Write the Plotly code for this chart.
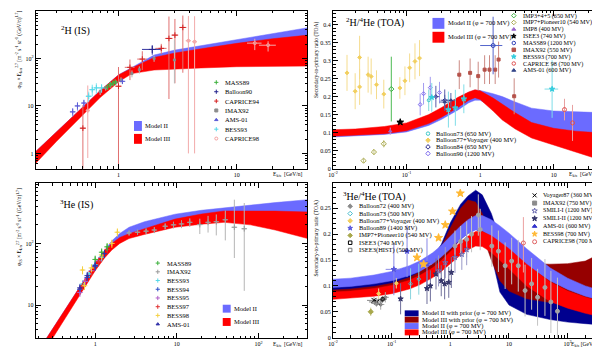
import math
import plotly.graph_objects as go

FONT = "Liberation Serif"

# ---------------- Panel 1 : 2H (IS) ----------------
p1_band_E = [0.2, 0.3, 0.5, 0.7, 1.0, 1.3, 2, 3, 5, 10, 20, 40]
p1_m3_lo = [0.62, 1.8, 6.5, 15, 32, 48, 57, 60, 63, 67, 69, 69]
p1_m3_hi = [1.1, 2.9, 9.5, 21, 45, 63, 105, 130, 160, 208, 260, 310]
p1_m2_lo = [0.7, 2.0, 7.0, 16, 35, 52, 80, 100, 125, 170, 210, 250]
p1_m2_hi = [1.1, 2.9, 9.5, 21, 45, 65, 118, 150, 185, 245, 330, 445]

p1_mass89_E = [0.81, 0.85, 0.90, 0.94]
p1_mass89_v = [25, 28, 30, 32]
p1_mass89_err = [3, 3, 4, 4]

p1_balloon90_E = [1.93]
p1_balloon90_v = [155]
p1_balloon90_err = [35]
p1_balloon90_ex = [0.35]

p1_caprice94_E = [0.50, 1.00, 1.25, 1.59, 2.30, 2.67, 3.00, 3.50]
p1_caprice94_v = [3.4, 26, 65, 97, 163, 264, 310, 450]
p1_caprice94_up = [7, 40, 30, 45, 40, 500, 370, 350]
p1_caprice94_dn = [3.1, 25.5, 30, 40, 40, 250, 280, 400]
p1_caprice94_ex = [0.03, 0.06, 0.12, 0.15, 0.25, 0.2, 0.2, 0.25]

p1_imax92_E = [0.70, 0.78, 0.86, 0.95, 1.05, 1.3, 1.5, 2.0, 2.97]
p1_imax92_v = [20, 24, 28, 31, 35, 48, 58, 100, 93]
p1_imax92_up = [3, 3, 4, 4, 5, 8, 10, 15, 150]
p1_imax92_dn = [3, 3, 4, 4, 5, 8, 10, 15, 63]

p1_ams01_E = [0.41, 0.45, 0.51, 1.08]
p1_ams01_v = [7.5, 10, 11.5, 33]
p1_ams01_err = [1.5, 2, 2, 4]

p1_bess93_E = [0.56, 0.60, 0.65, 0.72]
p1_bess93_v = [16, 22, 24, 24]
p1_bess93_err = [4, 6, 6, 5]

p1_caprice98_E = [0.55, 3.9, 4.4, 14.2, 18.4]
p1_caprice98_v = [8, 236, 225, 210, 190]
p1_caprice98_up = [19, 550, 550, 50, 40]
p1_caprice98_dn = [7.2, 235, 224, 60, 50]
p1_caprice98_ex = [0.02, 0.2, 0.2, 2.0, 3.0]

# ---------------- Panel 2 : 2H/4He (TOA) ----------------
p2_band_E = [0.01, 0.02, 0.05, 0.1, 0.2, 0.3, 0.5, 0.7, 0.85, 1.0, 1.5, 2, 3, 5, 10, 20, 50]
p2_m3_lo = [0.090, 0.092, 0.097, 0.105, 0.125, 0.143, 0.170, 0.190, 0.197, 0.192, 0.160, 0.135, 0.110, 0.085, 0.065, 0.045, 0.020]
p2_m3_hi = [0.108, 0.110, 0.117, 0.127, 0.150, 0.170, 0.198, 0.213, 0.219, 0.216, 0.196, 0.178, 0.155, 0.128, 0.112, 0.104, 0.098]
p2_m2_lo = [0.088, 0.090, 0.095, 0.102, 0.120, 0.137, 0.163, 0.183, 0.190, 0.190, 0.170, 0.155, 0.140, 0.120, 0.100, 0.090, 0.080]
p2_m2_hi = [0.105, 0.107, 0.114, 0.124, 0.147, 0.167, 0.196, 0.212, 0.218, 0.217, 0.208, 0.200, 0.185, 0.168, 0.160, 0.157, 0.155]

p2_b77_E = [0.0155, 0.020, 0.023, 0.023, 0.030, 0.033, 0.039, 0.049, 0.081, 0.095, 0.11, 0.13, 0.15]
p2_b77_v = [0.266, 0.215, 0.309, 0.227, 0.261, 0.256, 0.233, 0.207, 0.224, 0.244, 0.280, 0.298, 0.307]
p2_b77_err = [0.05, 0.05, 0.06, 0.05, 0.05, 0.05, 0.04, 0.04, 0.03, 0.04, 0.04, 0.05, 0.05]

p2_imp7_E = [0.026, 0.036, 0.049]
p2_imp7_v = [0.022, 0.046, 0.069]
p2_imp7_err = [0.006, 0.008, 0.010]

p2_imp345_E = [0.062]
p2_imp345_v = [0.221]
p2_imp345_err = [0.09]

p2_isee3_E = [0.082]
p2_isee3_v = [0.129]
p2_isee3_err = [0.006]

p2_imp8_E = [0.060]
p2_imp8_v = [0.104]
p2_imp8_err = [0.01]

p2_b90_E = [0.153, 0.17, 0.21, 0.28]
p2_b90_v = [0.178, 0.208, 0.225, 0.211]
p2_b90_err = [0.03, 0.03, 0.03, 0.03]

p2_b84_E = [0.25, 0.33]
p2_b84_v = [0.20, 0.19]
p2_b84_err = [0.03, 0.03]

p2_b73_E = [0.20]
p2_b73_v = [0.19]
p2_b73_err = [0.03]

p2_bess93_E = [0.22, 0.37, 0.46, 0.60, 9.5]
p2_bess93_v = [0.198, 0.164, 0.169, 0.194, 0.221]
p2_bess93_err = [0.04, 0.05, 0.05, 0.04, 0.08]
p2_bess93_ex = [0.02, 0.03, 0.04, 0.05, 2.0]

p2_mass89_E = [1.5]
p2_mass89_v = [0.342]
p2_mass89_err = [0.08]
p2_mass89_ex = [0.5]

p2_imax92_E = [0.52, 0.73, 0.94, 1.15, 1.34, 1.6, 1.78, 2.9]
p2_imax92_v = [0.261, 0.266, 0.257, 0.275, 0.275, 0.275, 0.303, 0.201]
p2_imax92_err = [0.04, 0.04, 0.04, 0.04, 0.04, 0.04, 0.05, 0.05]

p2_caprice98_E = [14, 18]
p2_caprice98_v = [0.164, 0.127]
p2_caprice98_err = [0.03, 0.05]

p2_ams01_E = [0.33, 0.40]
p2_ams01_v = [0.185, 0.19]
p2_ams01_err = [0.02, 0.02]
p2_ams01_ex = [0.05, 0.06]

# ---------------- Panel 3 : 3He (IS) ----------------
p3_band_E = [0.19, 0.3, 0.44, 0.7, 1.0, 1.3, 1.6, 2.0, 2.6, 4, 6, 9.5, 20, 38, 80, 160, 400]
p3_m3_lo = [1.1, 2.9, 6.2, 17, 36, 58, 78, 100, 120, 140, 160, 183, 205, 220, 200, 165, 120]
p3_m3_hi = [1.6, 4.0, 8.9, 23, 48, 75, 100, 125, 144, 175, 205, 248, 300, 336, 340, 335, 324]
p3_m2_lo = [1.2, 3.0, 6.5, 18, 38, 62, 84, 108, 130, 155, 180, 210, 240, 260, 260, 250, 240]
p3_m2_hi = [1.6, 4.0, 8.9, 23, 48, 78, 110, 145, 183, 225, 260, 298, 345, 378, 420, 460, 513]

p3_mass89_E = [1.0, 1.2, 1.4]
p3_mass89_v = [55, 72, 88]
p3_imax92_E = [2.6, 3.3, 4.2, 5.3, 7.2, 9.1, 11.4, 14.4, 19.1, 24.1, 30.4, 39.2, 50.6, 66.9]
p3_imax92_v = [148, 152, 158, 165, 190, 200, 207, 220, 202, 220, 225, 242, 183, 173]
p3_imax92_up = [12, 14, 15, 18, 20, 25, 30, 35, 50, 60, 70, 100, 330, 280]
p3_imax92_dn = [12, 14, 15, 18, 20, 25, 30, 35, 60, 70, 90, 130, 125, 156]
p3_bess93_E = [0.7, 0.85, 1.0, 1.2]
p3_bess93_v = [22, 32, 45, 60]
p3_bess94_E = [0.65, 0.8, 1.0]
p3_bess94_v = [18, 28, 42]
p3_bess95_E = [0.65, 0.75, 0.9, 1.1]
p3_bess95_v = [16, 24, 36, 52]
p3_bess97_E = [0.7, 0.9, 1.1, 1.4]
p3_bess97_v = [20, 35, 50, 80]
p3_bess98_E = [0.70, 0.74, 0.9, 1.2, 1.6, 1.87]
p3_bess98_v = [37, 20.6, 40, 65, 100, 152]
p3_ams01_E = [0.65, 0.8, 1.0, 1.3]
p3_ams01_v = [19, 30, 44, 68]

# ---------------- Panel 4 : 3He/4He (TOA) ----------------
p4_band_E = [0.01, 0.02, 0.05, 0.1, 0.2, 0.3, 0.5, 0.7, 1.0, 1.5, 2.0, 2.7, 3.5, 5, 7, 10, 20, 50, 100, 200, 447]
p4_m2p_lo = [0.086, 0.088, 0.092, 0.098, 0.108, 0.117, 0.133, 0.148, 0.168, 0.190, 0.202, 0.210, 0.200, 0.160, 0.088, 0.063, 0.045, 0.035, 0.030, 0.027, 0.024]
p4_m2p_hi = [0.100, 0.102, 0.107, 0.113, 0.124, 0.135, 0.156, 0.180, 0.222, 0.258, 0.274, 0.285, 0.276, 0.240, 0.190, 0.150, 0.105, 0.080, 0.070, 0.065, 0.062]
p4_m3p_lo = [0.080, 0.082, 0.086, 0.091, 0.100, 0.108, 0.122, 0.137, 0.160, 0.195, 0.222, 0.225, 0.200, 0.150, 0.110, 0.090, 0.075, 0.068, 0.065, 0.063, 0.062]
p4_m3p_hi = [0.092, 0.094, 0.099, 0.105, 0.116, 0.127, 0.150, 0.175, 0.212, 0.250, 0.266, 0.262, 0.240, 0.195, 0.160, 0.148, 0.143, 0.142, 0.143, 0.148, 0.168]
p4_m2_lo = [0.097, 0.099, 0.104, 0.110, 0.120, 0.128, 0.143, 0.156, 0.172, 0.190, 0.201, 0.208, 0.206, 0.196, 0.182, 0.168, 0.140, 0.110, 0.093, 0.080, 0.070]
p4_m2_hi = [0.113, 0.115, 0.121, 0.128, 0.139, 0.148, 0.164, 0.178, 0.196, 0.216, 0.228, 0.236, 0.236, 0.228, 0.216, 0.202, 0.172, 0.135, 0.115, 0.100, 0.088]
p4_m3_lo = [0.074, 0.076, 0.080, 0.085, 0.094, 0.102, 0.116, 0.128, 0.143, 0.160, 0.170, 0.177, 0.176, 0.165, 0.150, 0.133, 0.100, 0.070, 0.057, 0.047, 0.038]
p4_m3_hi = [0.088, 0.090, 0.095, 0.101, 0.111, 0.120, 0.135, 0.149, 0.166, 0.185, 0.196, 0.205, 0.205, 0.197, 0.185, 0.172, 0.142, 0.108, 0.090, 0.078, 0.068]

p4_imax92_E = [1.2, 1.5, 1.9, 2.3, 3.0, 3.23, 5.1, 6.6, 8.6, 11.1, 14.4, 18.8, 24.3, 30.7, 41, 51.8, 67]
p4_imax92_v = [0.177, 0.186, 0.190, 0.200, 0.237, 0.209, 0.177, 0.167, 0.139, 0.148, 0.139, 0.091, 0.104, 0.078, 0.097, 0.069, 0.051]
p4_imax92_err = [0.03, 0.03, 0.035, 0.035, 0.04, 0.04, 0.04, 0.04, 0.045, 0.045, 0.05, 0.05, 0.05, 0.055, 0.055, 0.06, 0.065]
p4_bess98_E = [0.27, 0.35, 0.63, 0.82, 1.09, 1.48]
p4_bess98_v = [0.155, 0.142, 0.193, 0.218, 0.244, 0.279]
p4_b77_E = [0.06, 0.12]
p4_b77_v = [0.085, 0.105]
p4_imp7_E = [0.044]
p4_imp7_v = [0.050]
p4_voy87_E = [0.050, 0.056]
p4_voy87_v = [0.072, 0.069]
p4_b72_E = [0.065, 0.078]
p4_b72_v = [0.064, 0.078]
p4_isee3_E = [0.07]
p4_isee3_v = [0.074]
p4_iseeh_E = [0.055]
p4_iseeh_v = [0.066]
p4_smili2_E = [0.142, 0.40, 0.457, 0.57, 0.70, 0.80, 0.94, 1.04]
p4_smili2_v = [0.075, 0.095, 0.100, 0.123, 0.110, 0.104, 0.107, 0.126]
p4_smili1_E = [0.63, 0.82, 1.2, 1.57, 1.9]
p4_smili1_v = [0.129, 0.145, 0.155, 0.161, 0.17]
p4_b89_E = [0.109, 0.183, 0.40]
p4_b89_v = [0.132, 0.167, 0.142]
p4_b73_E = [0.21, 0.29]
p4_b73_v = [0.104, 0.113]
p4_caprice98_E = [17.6]
p4_caprice98_v = [0.183]

fig = go.Figure()


def band(E, lo, hi, color, ax):
    fig.add_trace(go.Scatter(
        x=list(E) + list(E)[::-1], y=list(hi) + list(lo)[::-1],
        mode="lines", fill="toself", fillcolor=color,
        line=dict(color=color, width=0.5), hoverinfo="skip",
        xaxis="x" + ax, yaxis="y" + ax, showlegend=False))


def pts(E, v, color, symbol, size, ax, up=None, dn=None, ex=None, ecolor=None):
    ec = ecolor or color
    kw = {}
    if up is not None:
        kw["error_y"] = dict(type="data", symmetric=dn is None, array=up,
                             arrayminus=dn, color=ec, thickness=1, width=0)
    if ex is not None:
        kw["error_x"] = dict(type="data", array=ex, color=ec, thickness=1, width=0)
    fig.add_trace(go.Scatter(
        x=E, y=v, mode="markers",
        marker=dict(color=color, symbol=symbol, size=size,
                    line=dict(color=color, width=1)),
        xaxis="x" + ax, yaxis="y" + ax, showlegend=False, **kw))


BLUE = "#6B6BFF"
RED = "#FF0000"
NAVY = "#00008F"
DRED = "#960000"

# Panel 1
band(p1_band_E, p1_m2_lo, p1_m2_hi, BLUE, "")
band(p1_band_E, p1_m3_lo, p1_m3_hi, RED, "")
pts(p1_caprice98_E, p1_caprice98_v, "#F4A0A0", "circle-open", 3, "", p1_caprice98_up, p1_caprice98_dn, p1_caprice98_ex, "#F2AAAA")
pts(p1_caprice94_E, p1_caprice94_v, "#D42020", "cross-thin", 4, "", p1_caprice94_up, p1_caprice94_dn, p1_caprice94_ex, "#E07070")
pts(p1_imax92_E, p1_imax92_v, "#8C8C8C", "square", 2, "", p1_imax92_up, p1_imax92_dn, None, "#BBBBBB")
pts(p1_ams01_E, p1_ams01_v, "#5B5BD6", "cross-thin", 4, "", p1_ams01_err, None, [0.02, 0.02, 0.02, 0.04], "#7777DD")
pts(p1_bess93_E, p1_bess93_v, "#55D8E8", "cross-thin", 4, "", p1_bess93_err, None, [0.03, 0.03, 0.03, 0.03], "#7FE3EF")
pts(p1_mass89_E, p1_mass89_v, "#3DB03D", "cross-thin", 4, "", p1_mass89_err, None, None, "#77CC77")
pts(p1_balloon90_E, p1_balloon90_v, "#23238C", "cross-thin", 5, "", p1_balloon90_err, None, p1_balloon90_ex, "#3434A0")

# Panel 2
band(p2_band_E, p2_m2_lo, p2_m2_hi, BLUE, "2")
band(p2_band_E, p2_m3_lo, p2_m3_hi, RED, "2")
pts(p2_b77_E, p2_b77_v, "#F2CF5E", "diamond", 3, "2", p2_b77_err, None, None, "#F5DC8E")
pts(p2_imp7_E, p2_imp7_v, "#A8A84C", "diamond-open", 4, "2", p2_imp7_err, None, None, "#C8C88A")
pts(p2_imp345_E, p2_imp345_v, "#3CB043", "diamond-open", 4, "2", p2_imp345_err, None, None, "#4CBB53")
pts(p2_isee3_E, p2_isee3_v, "#000000", "star", 5, "2", p2_isee3_err, None, [0.008], "#555555")
pts(p2_imp8_E, p2_imp8_v, "#9966CC", "triangle-up", 3, "2", p2_imp8_err, None, None, "#BB99DD")
pts(p2_b90_E, p2_b90_v, "#7B68EE", "diamond-open", 3, "2", p2_b90_err, None, None, "#A39BF0")
pts(p2_b84_E, p2_b84_v, "#2B2B8C", "diamond-open", 3, "2", p2_b84_err, None, [0.03, 0.04], "#5A5AA8")
pts(p2_b73_E, p2_b73_v, "#3FC8C8", "circle-open", 3, "2", p2_b73_err, None, None, "#80DADA")
pts(p2_bess93_E, p2_bess93_v, "#33CCDD", "star", 4, "2", p2_bess93_err, None, p2_bess93_ex, "#7FDDE8")
pts(p2_ams01_E, p2_ams01_v, "#334488", "triangle-up", 3, "2", p2_ams01_err, None, p2_ams01_ex, "#5566AA")
pts(p2_imax92_E, p2_imax92_v, "#B5524A", "square", 3, "2", p2_imax92_err, None, None, "#CC8A84")
pts(p2_mass89_E, p2_mass89_v, "#3344BB", "circle-open", 4, "2", p2_mass89_err, None, p2_mass89_ex, "#5566CC")
pts(p2_caprice98_E, p2_caprice98_v, "#E05050", "circle-open", 4, "2", p2_caprice98_err, None, None, "#E8A0A0")

# Panel 3
band(p3_band_E, p3_m2_lo, p3_m2_hi, BLUE, "3")
band(p3_band_E, p3_m3_lo, p3_m3_hi, RED, "3")
pts(p3_imax92_E, p3_imax92_v, "#9A9A9A", "cross-thin", 4, "3", p3_imax92_up, p3_imax92_dn, [0.15, 0.2, 0.25, 0.3, 0.4, 0.5, 0.6, 0.8, 1, 1.3, 1.7, 2.2, 3, 4], "#B5B5B5")
for E, v, c in [(p3_bess93_E, p3_bess93_v, "#55D8E8"), (p3_bess94_E, p3_bess94_v, "#2E4FC9"),
                (p3_bess95_E, p3_bess95_v, "#B060C8"), (p3_bess97_E, p3_bess97_v, "#E03030"),
                (p3_bess98_E, p3_bess98_v, "#F5D040"), (p3_mass89_E, p3_mass89_v, "#3DB03D"),
                (p3_ams01_E, p3_ams01_v, "#3333AA")]:
    pts(E, v, c, "cross-thin", 4, "3", [x * 0.15 for x in v], None, [x * 0.04 for x in E], c)

# Panel 4
band(p4_band_E, p4_m2p_lo, p4_m2p_hi, NAVY, "4")
band(p4_band_E, p4_m3p_lo, p4_m3p_hi, DRED, "4")
band(p4_band_E, p4_m2_lo, p4_m2_hi, BLUE, "4")
band(p4_band_E, p4_m3_lo, p4_m3_hi, RED, "4")
pts(p4_imax92_E, p4_imax92_v, "#A5A5A5", "circle", 4, "4", p4_imax92_err, None, None, "#C4C4C4")
pts(p4_b77_E, p4_b77_v, "#F2CF5E", "diamond", 3, "4", [0.01, 0.01], None, None, "#F5DC8E")
pts(p4_imp7_E, p4_imp7_v, "#A8A84C", "diamond", 4, "4", [0.008], None, None, "#C8C88A")
pts(p4_b72_E, p4_b72_v, "#8A8A8A", "diamond", 3, "4", [0.01, 0.01], None, [0.01, 0.012], "#AAAAAA")
pts(p4_voy87_E, p4_voy87_v, "#000000", "x-thin", 5, "4", [0.006, 0.006], None, [0.012, 0.015], "#888888")
pts(p4_isee3_E, p4_isee3_v, "#000000", "square-open", 3, "4", [0.006], None, [0.012], "#666666")
pts(p4_iseeh_E, p4_iseeh_v, "#777777", "square-open", 3, "4", [0.006], None, [0.01], "#999999")
pts(p4_b73_E, p4_b73_v, "#44BBCC", "diamond-open", 3, "4", [0.03, 0.03], None, None, "#88D4DD")
pts(p4_b89_E, p4_b89_v, "#5555DD", "star", 4, "4", [0.05, 0.05, 0.05], None, [0.03, 0.04, 0.08], "#8888E6")
pts(p4_smili2_E, p4_smili2_v, "#34346A", "star", 4, "4", [0.03] * 8, None, None, "#6E6E9A")
pts(p4_smili1_E, p4_smili1_v, "#6A6AB0", "star-open", 4, "4", [0.03] * 5, None, None, "#9A9AC8")
pts(p4_bess98_E, p4_bess98_v, "#FFB833", "star", 6, "4", [0.005] * 6, None, [0.03, 0.04, 0.06, 0.08, 0.1, 0.15], "#FFCC66")
pts(p4_caprice98_E, p4_caprice98_v, "#E06060", "circle-open", 4, "4", [0.05], [0.057], None, "#EBA0A0")


# ---------------- Axes ----------------
def minors(lo_exp, hi_exp, vmin, vmax):
    out = []
    for e in range(lo_exp, hi_exp + 1):
        for m in range(2, 10):
            val = m * 10 ** e
            if vmin <= val <= vmax:
                out.append(val)
    return out


def axis(kind, domain, rng, anchor, tickvals, ticktext, minor):
    d = dict(type=kind, domain=domain, range=rng, anchor=anchor,
             showline=True, linecolor="black", linewidth=1, mirror="allticks",
             ticks="inside", ticklen=5, tickwidth=0.8, tickcolor="black",
             tickmode="array", tickvals=tickvals, ticktext=ticktext,
             tickfont=dict(size=6, family=FONT, color="black"),
             showgrid=False, zeroline=False, fixedrange=True)
    if kind == "log":
        d["minor"] = dict(tickmode="array", tickvals=minor, ticks="inside",
                          ticklen=2.5, tickcolor="black", tickwidth=0.6, showgrid=False)
    else:
        d["minor"] = dict(dtick=minor, ticks="inside", ticklen=2.5,
                          tickcolor="black", tickwidth=0.6, showgrid=False)
    return d


W, H = 600.0, 348.0
xl = [23 / W, 296.5 / W]
xr = [322.7 / W, 596.7 / W]
yt = [1 - 162 / H, 1 - 3 / H]
yb1 = [1 - 333 / H, 1 - 177 / H]
yb2 = [1 - 332.5 / H, 1 - 177 / H]

fig.update_layout(
    xaxis=axis("log", xl, [math.log10(0.2), 1.594], "y", [1, 10], ["1", "10"], minors(-1, 1, 0.2, 40)),
    yaxis=axis("log", yt, [-0.32, 3.0], "x", [1, 10, 100, 1000],
               ["1", "10", "10<sup>2</sup>", "10<sup>3</sup>"], minors(-1, 2, 0.45, 1000)),
    xaxis2=axis("log", xr, [-2, 1.693], "y2", [0.01, 0.1, 1, 10],
                ["10<sup>-2</sup>", "10<sup>-1</sup>", "1", "10"], minors(-2, 1, 0.01, 50)),
    yaxis2=axis("linear", yt, [0, 0.438], "x2", [0, 0.05, 0.1, 0.15, 0.2, 0.25, 0.3, 0.35, 0.4],
                ["0", "0.05", "0.1", "0.15", "0.2", "0.25", "0.3", "0.35", "0.4"], 0.01),
    xaxis3=axis("log", xl, [-0.727, 2.594], "y3", [1, 10, 100], ["1", "10", "10<sup>2</sup>"],
                minors(-1, 2, 0.19, 400)),
    yaxis3=axis("log", yb1, [0.463, 2.973], "x3", [10, 100], ["10", "10<sup>2</sup>"],
                minors(0, 2, 2.9, 950)),
    xaxis4=axis("log", xr, [-2, 2.632], "y4", [0.01, 0.1, 1, 10, 100],
                ["10<sup>-2</sup>", "10<sup>-1</sup>", "1", "10", "10<sup>2</sup>"], minors(-2, 2, 0.01, 430)),
    yaxis4=axis("linear", yb2, [0, 0.298], "x4", [0, 0.05, 0.1, 0.15, 0.2, 0.25],
                ["0", "0.05", "0.1", "0.15", "0.2", "0.25"], 0.01),
    xaxis5=dict(domain=[0, 1], range=[0, W], visible=False, fixedrange=True),
    yaxis5=dict(domain=[0, 1], range=[H, 0], visible=False, fixedrange=True),
)

# ---------------- Legends / labels (pixel overlay) ----------------
ann = []
shapes = []


def text(x, y, s, size=6.5, anchor="left", angle=0, yanchor="middle"):
    ann.append(dict(x=x, y=y, xref="x5", yref="y5", text=s, showarrow=False,
                    xanchor=anchor, yanchor=yanchor, textangle=angle,
                    font=dict(family=FONT, size=size, color="black")))


def key(x, y, color, symbol, size=4):
    fig.add_trace(go.Scatter(x=[x], y=[y], mode="markers", xaxis="x5", yaxis="y5",
                             marker=dict(color=color, symbol=symbol, size=size,
                                         line=dict(color=color, width=1)),
                             hoverinfo="skip", showlegend=False))


def box(x0, y0, x1, y1, color):
    shapes.append(dict(type="rect", xref="x5", yref="y5", x0=x0, y0=y0, x1=x1, y1=y1,
                       fillcolor=color, line=dict(width=0)))


# panel 1
text(46, 23, "<sup>2</sup>H (IS)", 10)
ytitle_is = ("φ<sub>IS</sub> × E<sub>k/n</sub><sup>2.7</sup> [m<sup>-2</sup> s<sup>-1</sup> "
             "sr<sup>-1</sup> (GeV/n)<sup>1.7</sup>]")
text(6, 42, ytitle_is, 5.5, "center", -90)
text(294, 168, "E<sub>k/n</sub>  [GeV/n]", 5.5, "right")
p1_keys = [("MASS89", "#3DB03D", "cross-thin"), ("Balloon90", "#23238C", "cross-thin"),
           ("CAPRICE94", "#D42020", "cross-thin"), ("IMAX92", "#8C8C8C", "square"),
           ("AMS-01", "#5B5BD6", "triangle-up"), ("BESS93", "#55D8E8", "cross-thin"),
           ("CAPRICE98", "#F4A0A0", "circle-open")]
for i, (lab, c, s) in enumerate(p1_keys):
    y = 75 + 9.45 * i
    key(205, y, c, s, 3)
    text(212, y, lab)
box(122, 114, 130, 124, BLUE)
box(122, 127, 130, 137, RED)
text(131.5, 119, "Model II")
text(131.5, 132, "Model III")

# panel 2
text(334, 15, "<sup>2</sup>H/<sup>4</sup>He (TOA)", 10)
text(306, 52, "Secondary-to-primary ratio (TOA)", 5.5, "center", -90)
text(593, 168, "E<sub>k/n</sub>  [GeV/n]", 5.5, "right")
box(423, 10, 435, 21, BLUE)
box(423, 24, 435, 35, RED)
text(436.5, 15.5, "Model II (φ = 700 MV)")
text(436.5, 29.5, "Model III (φ = 700 MV)")
p2_keys = [("IMP3+4+5 (650 MV)", "#3CB043", "diamond-open"),
           ("IMP7+Pioneer10 (540 MV)", "#A8A84C", "diamond-open"),
           ("IMP8 (400 MV)", "#9966CC", "triangle-up"),
           ("ISEE3 (740 MV)", "#000000", "star"),
           ("MASS89 (1200 MV)", "#3344BB", "circle-open"),
           ("IMAX92 (550 MV)", "#B5524A", "square"),
           ("BESS93 (700 MV)", "#33CCDD", "star"),
           ("CAPRICE 98 (700 MV)", "#E05050", "circle-open"),
           ("AMS-01 (600 MV)", "#334488", "triangle-up")]
for i, (lab, c, s) in enumerate(p2_keys):
    y = 7.7 + 6.9 * i
    key(505, y, c, s, 3.5)
    text(512, y, lab, 6.2)
p2_keys_b = [("Balloon73 (650 MV)", "#3FC8C8", "circle-open"),
             ("Balloon77+Voyager (400 MV)", "#F2CF5E", "diamond"),
             ("Balloon84 (650 MV)", "#2B2B8C", "diamond-open"),
             ("Balloon90 (1200 MV)", "#7B68EE", "diamond-open")]
for i, (lab, c, s) in enumerate(p2_keys_b):
    y = 126.7 + 6.7 * i
    key(418.5, y, c, s, 3.5)
    text(425, y, lab)

# panel 3
text(45, 198, "<sup>3</sup>He (IS)", 10)
text(6, 221, ytitle_is, 5.5, "center", -90)
text(294, 339.5, "E<sub>k/n</sub>  [GeV/n]", 5.5, "right")
p3_keys = [("MASS89", "#3DB03D"), ("IMAX92", "#9A9A9A"), ("BESS93", "#55D8E8"),
           ("BESS94", "#2E4FC9"), ("BESS95", "#B060C8"), ("BESS97", "#E03030"),
           ("BESS98", "#F5D040"), ("AMS-01", "#3333AA")]
for i, (lab, c) in enumerate(p3_keys):
    y = 257.3 + 8.8 * i
    key(146, y, c, "cross-thin" if lab != "AMS-01" else "triangle-up", 3)
    text(153, y, lab)
box(211.5, 299.3, 219.5, 307.3, BLUE)
box(211.5, 312.7, 219.5, 320.7, RED)
text(220.5, 303.3, "Model II")
text(220.5, 316.7, "Model III")

# panel 4
text(331, 190, "<sup>3</sup>He/<sup>4</sup>He (TOA)", 10)
text(306, 232, "Secondary-to-primary ratio (TOA)", 5.5, "center", -90)
text(593, 339.5, "E<sub>k/n</sub> [GeV/n]", 5.5, "right")
p4_keys_l = [("Balloon72 (400 MV)", "#8A8A8A", "diamond"),
             ("Balloon73 (500 MV)", "#44BBCC", "diamond-open"),
             ("Balloon77+Voyager (400 MV)", "#F2CF5E", "diamond"),
             ("Balloon89 (1400 MV)", "#5555DD", "star"),
             ("IMP7+Pioneer10 (540 MV)", "#A8A84C", "diamond"),
             ("ISEE3 (740 MV)", "#000000", "square-open"),
             ("ISEE3(HIST) (500 MV)", "#777777", "square-open")]
for i, (lab, c, s) in enumerate(p4_keys_l):
    y = 200 + 7.35 * i
    key(340, y, c, s, 3.5)
    text(346.5, y, lab)
p4_keys_r = [("Voyager87 (360 MV)", "#000000", "x-thin"),
             ("IMAX92 (750 MV)", "#8C8C8C", "square"),
             ("SMILI-I (1200 MV)", "#6A6AB0", "star-open"),
             ("SMILI-II (1200 MV)", "#34346A", "star"),
             ("AMS-01 (600 MV)", "#3333CC", "triangle-up"),
             ("BESS98 (700 MV)", "#FFB833", "star"),
             ("CAPRICE98 (700 MV)", "#E06060", "circle-open")]
for i, (lab, c, s) in enumerate(p4_keys_r):
    y = 189 + 7.8 * i
    key(526, y, c, s, 4)
    text(532, y, lab, 6.1)
p4_models = [("Model II with prior (φ = 700 MV)", NAVY),
             ("Model III with prior (φ = 700 MV)", DRED),
             ("Model II (φ = 700 MV)", BLUE),
             ("Model III (φ = 700 MV)", RED)]
for i, (lab, c) in enumerate(p4_models):
    y = 308 + 6.4 * i
    box(395, y - 3, 409, y + 3, c)
    text(410, y, lab)

fig.update_layout(
    width=600, height=348, margin=dict(l=0, r=0, t=0, b=0),
    paper_bgcolor="white", plot_bgcolor="rgba(0,0,0,0)",
    showlegend=False, annotations=ann, shapes=shapes,
    font=dict(family=FONT, color="black"),
)

fig.write_html("out.html")
